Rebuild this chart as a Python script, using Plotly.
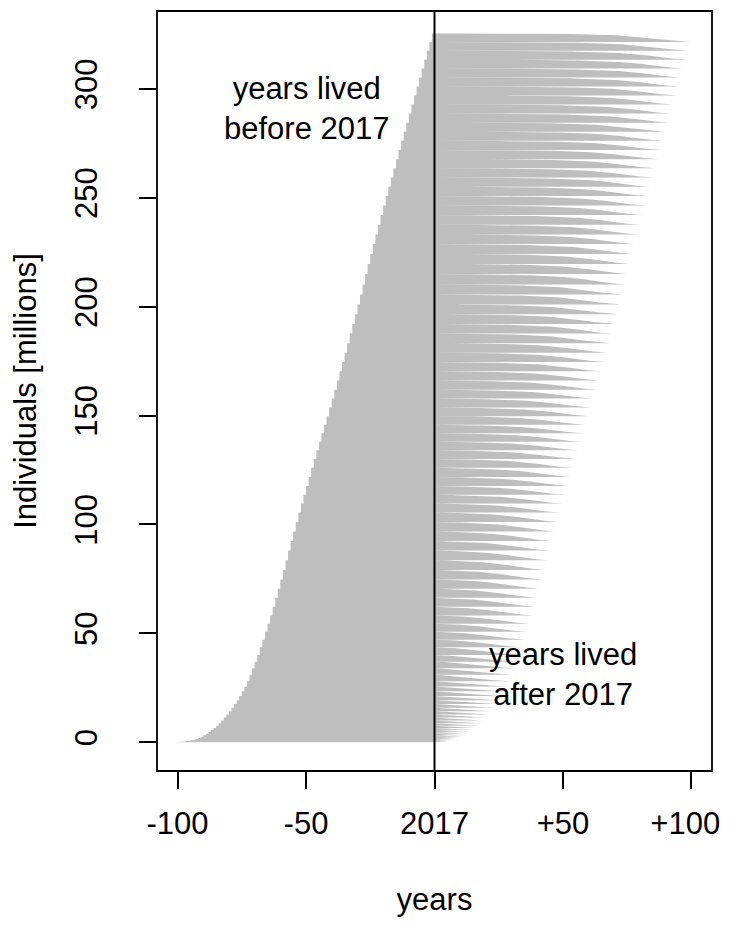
import numpy as np
import plotly.graph_objects as go

# ---- data -------------------------------------------------------------
ages = list(range(0, 101))
# population by single year of age, 2017 (millions)
population_millions = [
    4.00, 4.02, 4.04, 4.08, 4.11, 4.11, 4.12, 4.17, 4.18, 4.14,
    4.15, 4.19, 4.21, 4.22, 4.20, 4.23, 4.24, 4.28, 4.33, 4.41,
    4.45, 4.43, 4.44, 4.50, 4.59, 4.67, 4.78, 4.65, 4.55, 4.47,
    4.45, 4.41, 4.41, 4.37, 4.29, 4.27, 4.21, 4.24, 4.10, 4.05,
    3.99, 4.00, 3.87, 3.87, 3.91, 4.00, 4.11, 4.14, 4.17, 4.05,
    4.05, 4.10, 4.29, 4.42, 4.40, 4.38, 4.39, 4.46, 4.38, 4.26,
    4.18, 4.12, 3.96, 3.83, 3.70, 3.60, 3.54, 3.55, 3.04, 3.01,
    3.00, 3.00, 2.32, 2.24, 2.14, 1.95, 1.80, 1.70, 1.58, 1.50,
    1.42, 1.33, 1.23, 1.15, 1.06, 0.98, 0.90, 0.80, 0.72, 0.62,
    0.54, 0.45, 0.37, 0.30, 0.24, 0.19, 0.14, 0.10, 0.07, 0.05,
    0.09,
]
# life-table survivors l(x) per 100,000 births, ages 0..100 (closed at 100)
survivors_lx = [
    100000, 99421, 99381, 99357, 99338, 99323, 99309, 99297, 99286, 99276,
    99267, 99257, 99246, 99231, 99209, 99177, 99134, 99080, 99015, 98941,
    98860, 98771, 98676, 98577, 98476, 98373, 98268, 98161, 98051, 97938,
    97822, 97703, 97581, 97455, 97325, 97191, 97052, 96907, 96756, 96599,
    96434, 96261, 96079, 95886, 95680, 95459, 95221, 94963, 94682, 94376,
    94043, 93681, 93289, 92866, 92410, 91920, 91395, 90834, 90237, 89603,
    88931, 88221, 87471, 86680, 85846, 84967, 84040, 83062, 82029, 80935,
    79775, 78541, 77227, 75826, 74330, 72731, 71022, 69194, 67240, 65153,
    62928, 59782, 56494, 53104, 49599, 45978, 42300, 38578, 34836, 31109,
    27438, 23871, 20457, 17245, 14279, 11595, 9218, 7172, 5451, 4045,
    0,
]
x_tick_vals = [-100, -50, 0, 50, 100]
x_tick_text = ["-100", "-50", "2017", "+50", "+100\u2009\u2009"]
y_tick_vals = [0, 50, 100, 150, 200, 250, 300]

# ---- build polygons ----------------------------------------------------
pop = dict(zip(ages, population_millions))
lx = survivors_lx
max_age = len(lx) - 1

left_x, left_y = [0], [0]
right_x, right_y = [0], [0]
cum = 0.0
for a in reversed(ages):
    p = pop[a]
    y_lo, y_hi = cum, cum + p
    left_x += [-(a + 1), -(a + 1)]
    left_y += [y_lo, y_hi]
    if lx[a] > 0:
        for t in range(max_age - a, -1, -1):
            s = lx[a + t] / lx[a]
            right_x.append(t)
            right_y.append(y_hi - p * (1 - s))
    else:
        right_x += [0, 0]
        right_y += [y_lo, y_hi]
    cum = y_hi
left_x += [0, 0]
left_y += [cum, 0]
right_x += [0, 0]
right_y += [cum, 0]

GRAY = "#BEBEBE"
FONT = "Liberation Sans, Arial, sans-serif"
FS = 31

fig = go.Figure()
fig.add_trace(go.Scatter(x=left_x, y=left_y, mode="lines", fill="toself",
                         fillcolor=GRAY, line=dict(width=0, color=GRAY),
                         hoverinfo="skip", showlegend=False))
fig.add_trace(go.Scatter(x=right_x, y=right_y, mode="lines", fill="toself",
                         fillcolor=GRAY, line=dict(width=0, color=GRAY),
                         hoverinfo="skip", showlegend=False))

fig.add_shape(type="line", xref="x", yref="paper", x0=0, x1=0, y0=0, y1=1,
              line=dict(color="black", width=2))
fig.add_shape(type="rect", xref="paper", yref="paper", x0=0, x1=1, y0=0, y1=1,
              line=dict(color="black", width=1.8), fillcolor="rgba(0,0,0,0)")

fig.add_annotation(x=-50, y=291, xref="x", yref="y",
                   text="years lived<br>before 2017", showarrow=False,
                   font=dict(family=FONT, size=FS, color="black"),
                   align="center", xanchor="center", yanchor="middle")
fig.add_annotation(x=50, y=31, xref="x", yref="y",
                   text="years lived<br>after 2017", showarrow=False,
                   font=dict(family=FONT, size=FS, color="black"),
                   align="center", xanchor="center", yanchor="middle")

fig.update_layout(
    width=715, height=909,
    margin=dict(l=149, r=11, t=3, b=146, autoexpand=False),
    plot_bgcolor="white", paper_bgcolor="white",
    font=dict(family=FONT, size=FS, color="black"),
    xaxis=dict(range=[-108, 108], tickvals=x_tick_vals, ticktext=x_tick_text,
               ticks="outside", ticklen=17, tickwidth=1.8, tickcolor="black",
               showline=False, showgrid=False, zeroline=False,
               ticklabelstandoff=8, ticklabeloverflow="allow",
               automargin=False,
               title=dict(text="years", standoff=49,
                          font=dict(family=FONT, size=FS))),
    yaxis=dict(range=[-13.2, 335.8], tickvals=y_tick_vals,
               ticks="outside", ticklen=17, tickwidth=1.8, tickcolor="black",
               showline=False, showgrid=False, zeroline=False, tickangle=-90,
               ticklabelstandoff=30, ticklabeloverflow="allow",
               automargin=False,
               title=dict(text="Individuals [millions]", standoff=23,
                          font=dict(family=FONT, size=FS))),
)

fig.write_html("out.html")
